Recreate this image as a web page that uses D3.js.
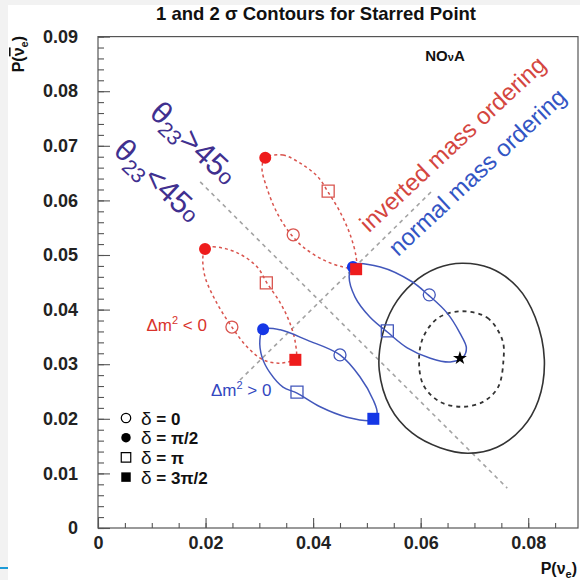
<!DOCTYPE html>
<html>
<head>
<meta charset="utf-8">
<script src="https://cdn.jsdelivr.net/npm/d3@7"></script>
<style>
body { margin: 0; background: #f2f2f2; }
svg { display: block; font-family: "Liberation Sans", Arial, sans-serif; }
</style>
</head>
<body>
<div class="chart"></div>
<script>
// Tick values
const xTicks = [0, 0.02, 0.04, 0.06, 0.08];
const yTicks = [0, 0.01, 0.02, 0.03, 0.04, 0.05, 0.06, 0.07, 0.08, 0.09];

// Contours: [P(nu_e), P(nubar_e)]
const sigma2Pts = [[0.0677,0.0485],[0.0729,0.0476],[0.0780,0.0441],[0.0813,0.0386],[0.0830,0.0308],[0.0819,0.0234],[0.0789,0.0183],[0.0742,0.0148],[0.0688,0.0137],[0.0636,0.0147],[0.0584,0.0174],[0.0543,0.0222],[0.0523,0.0289],[0.0528,0.0350],[0.0549,0.0405],[0.0586,0.0449],[0.0631,0.0476]];
const sigma1Pts = [[0.0677,0.0397],[0.0724,0.0385],[0.0752,0.0344],[0.0754,0.0308],[0.0744,0.0258],[0.0716,0.0231],[0.0677,0.0222],[0.0636,0.0231],[0.0605,0.0262],[0.0597,0.0308],[0.0605,0.0350],[0.0633,0.0385]];
const starPoint = [0.0673, 0.0311];

// normal mass ordering (blue)
const noHighPts = [[0.0474,0.0482],[0.0525,0.0478],[0.0584,0.0451],[0.0614,0.0427],[0.0649,0.0394],[0.0673,0.0357],[0.0685,0.0330],[0.0679,0.0313],[0.0655,0.0304],[0.0618,0.0311],[0.0575,0.0330],[0.0538,0.0359],[0.0506,0.0386],[0.0478,0.0423],[0.0467,0.0460]];
const noLowPts = [[0.0307,0.0364],[0.0339,0.0363],[0.0389,0.0344],[0.0450,0.0317],[0.0487,0.0277],[0.0512,0.0234],[0.0519,0.0211],[0.0512,0.0198],[0.0463,0.0203],[0.0413,0.0222],[0.0370,0.0247],[0.0344,0.0258],[0.0320,0.0284],[0.0305,0.0313],[0.0301,0.0344]];
// inverted mass ordering (red)
const ioHighPts = [[0.0311,0.0678],[0.0344,0.0683],[0.0381,0.0665],[0.0409,0.0643],[0.0428,0.0615],[0.0450,0.0579],[0.0469,0.0537],[0.0480,0.0496],[0.0480,0.0476],[0.0456,0.0478],[0.0419,0.0491],[0.0381,0.0515],[0.0357,0.0540],[0.0333,0.0577],[0.0314,0.0623],[0.0305,0.0659]];
const ioLowPts = [[0.0199,0.0511],[0.0214,0.0515],[0.0259,0.0504],[0.0296,0.0478],[0.0314,0.0449],[0.0339,0.0412],[0.0357,0.0375],[0.0367,0.0339],[0.0367,0.0311],[0.0339,0.0302],[0.0307,0.0308],[0.0277,0.0332],[0.0249,0.0368],[0.0221,0.0412],[0.0199,0.0460],[0.0195,0.0496]];

// delta markers: [delta index, P(nu_e), P(nubar_e)]  (0: 0, 1: pi/2, 2: pi, 3: 3pi/2)
const noHighMarks = [[0,0.0616,0.0427],[1,0.0474,0.0478],[2,0.0538,0.0361]];
const noLowMarks = [[0,0.0450,0.0317],[1,0.0307,0.0364],[2,0.0370,0.0249],[3,0.0512,0.0200]];
const ioHighMarks = [[0,0.0363,0.0537],[1,0.0311,0.0678],[2,0.0428,0.0617],[3,0.0480,0.0474]];
const ioLowMarks = [[0,0.0249,0.0368],[1,0.0199,0.0511],[2,0.0313,0.0449],[3,0.0367,0.0308]];

// gray dashed separators
const octantLine = [[0.0190,0.0634],[0.0761,0.0073]];
const orderingLine = [[0.0264,0.0271],[0.0623,0.0619]];

const legendLabels = ["0", "π/2", "π", "3π/2"];

const W = 580, H = 580;
const svg = d3.select(".chart").append("svg").attr("width", W).attr("height", H);

svg.append("rect").attr("x", 8).attr("y", 5).attr("width", W - 8).attr("height", H - 5).attr("fill", "#fff");
svg.append("line").attr("x1", 0).attr("x2", 8).attr("y1", 568).attr("y2", 568).attr("stroke", "#1d9bd7").attr("stroke-width", 2);

const x = d3.scaleLinear().domain([0, 0.09]).range([98, 582]);
const y = d3.scaleLinear().domain([0, 0.09]).range([528, 36.6]);

const blue = "#4257bb", red = "#d9544e";
const blueFill = "#1537e6", redFill = "#ee1c1c";

// frame
svg.append("rect")
    .attr("x", x(0)).attr("y", y(0.09))
    .attr("width", 578 - x(0)).attr("height", y(0) - y(0.09))
    .attr("fill", "none").attr("stroke", "#555").attr("stroke-width", 1.2);

// axes (ticks point inward)
function styleAxis(g) {
    g.select(".domain").remove();
    g.selectAll(".tick line").attr("stroke", "#555").attr("stroke-width", 1.1);
    g.selectAll("text").attr("font-size", 18).attr("font-weight", "bold").attr("fill", "#222")
        .attr("font-family", "Liberation Sans, Arial, sans-serif");
}
const fmt = d => d === 0 ? "0" : d3.format(".2f")(d);

svg.append("g").attr("transform", `translate(0,${y(0)})`)
    .call(d3.axisBottom(x).tickValues(d3.range(0, 0.0901, 0.005)).tickSize(-5).tickFormat(""))
    .call(styleAxis);
svg.append("g").attr("transform", `translate(0,${y(0)})`)
    .call(d3.axisBottom(x).tickValues(xTicks).tickSize(-10).tickPadding(8).tickFormat(fmt))
    .call(styleAxis);
svg.append("g").attr("transform", `translate(${x(0)},0)`)
    .call(d3.axisLeft(y).tickValues(d3.range(0, 0.0901, 0.002)).tickSize(-6).tickFormat(""))
    .call(styleAxis);
svg.append("g").attr("transform", `translate(${x(0)},0)`)
    .call(d3.axisLeft(y).tickValues(yTicks).tickSize(-12).tickPadding(20).tickFormat(fmt))
    .call(styleAxis);

// title
svg.append("text").attr("x", 316).attr("y", 20).attr("text-anchor", "middle")
    .attr("font-size", 18.5).attr("font-weight", "bold").attr("fill", "#111")
    .text("1 and 2 σ Contours for Starred Point");

// axis titles
const xt = svg.append("text").attr("x", 577).attr("y", 574).attr("text-anchor", "end")
    .attr("font-size", 16).attr("font-weight", "bold").attr("fill", "#111");
xt.append("tspan").text("P(ν");
xt.append("tspan").attr("font-size", 11).attr("dy", 4).text("e");
xt.append("tspan").attr("dy", -4).text(")");

const yt = svg.append("text").attr("transform", "translate(24,36) rotate(-90)").attr("text-anchor", "end")
    .attr("font-size", 16).attr("font-weight", "bold").attr("fill", "#111");
yt.append("tspan").text("P(");
yt.append("tspan").style("text-decoration", "overline").text("ν");
yt.append("tspan").attr("font-size", 11).attr("dy", 4).text("e");
yt.append("tspan").attr("dy", -4).text(")");

// separators
const line = d3.line().x(d => x(d[0])).y(d => y(d[1]));
[octantLine, orderingLine].forEach(l => {
    svg.append("path").attr("d", line(l)).attr("fill", "none")
        .attr("stroke", "#a3a3a3").attr("stroke-width", 1.6).attr("stroke-dasharray", "4,4");
});

// contours
const closed = d3.line().x(d => x(d[0])).y(d => y(d[1])).curve(d3.curveCatmullRomClosed.alpha(0.5));
svg.append("path").attr("d", closed(sigma2Pts)).attr("fill", "none").attr("stroke", "#333").attr("stroke-width", 1.6);
svg.append("path").attr("d", closed(sigma1Pts)).attr("fill", "none").attr("stroke", "#333")
    .attr("stroke-width", 1.8).attr("stroke-dasharray", "4,4");

[[ioHighPts, red, "3,3"], [ioLowPts, red, "3,3"], [noHighPts, blue, null], [noLowPts, blue, null]].forEach(([pts, c, dash]) => {
    svg.append("path").attr("d", closed(pts)).attr("fill", "none").attr("stroke", c)
        .attr("stroke-width", 1.5).attr("stroke-dasharray", dash);
});

// markers
const symType = [d3.symbolCircle, d3.symbolCircle, d3.symbolSquare, d3.symbolSquare];
function drawMarks(marks, lineColor, fillColor) {
    svg.append("g").selectAll("path").data(marks).enter().append("path")
        .attr("transform", d => `translate(${x(d[1])},${y(d[2])})`)
        .attr("d", d => d3.symbol().type(symType[d[0]]).size(d[0] < 2 ? 113 : 144)())
        .attr("fill", d => d[0] % 2 === 1 ? fillColor : "none")
        .attr("stroke", d => d[0] % 2 === 1 ? "none" : lineColor)
        .attr("stroke-width", 1.3);
}
drawMarks(ioLowMarks, red, redFill);
drawMarks(noLowMarks, blue, blueFill);
drawMarks(noHighMarks, blue, blueFill);
drawMarks(ioHighMarks, red, redFill);

svg.append("path").attr("transform", `translate(${x(starPoint[0])},${y(starPoint[1])})`)
    .attr("d", d3.symbol().type(d3.symbolStar).size(60)()).attr("fill", "#000");

// legend
const legend = svg.append("g");
legendLabels.forEach((lab, i) => {
    const ly = 418 + i * 19.7;
    legend.append("path").attr("transform", `translate(126,${ly})`)
        .attr("d", d3.symbol().type(symType[i]).size(i < 2 ? 70 : 90)())
        .attr("fill", i % 2 === 1 ? "#000" : "none")
        .attr("stroke", i % 2 === 1 ? "none" : "#000").attr("stroke-width", 1.2);
    const t = legend.append("text").attr("x", 141).attr("y", ly + 6.5)
        .attr("font-size", 17).attr("font-weight", "bold").attr("fill", "#111");
    t.append("tspan").attr("font-weight", "normal").attr("font-size", 19).text("δ");
    t.append("tspan").text(" = " + lab);
});

// annotations
svg.append("text").attr("x", 445).attr("y", 61).attr("text-anchor", "middle")
    .attr("font-size", 15).attr("font-weight", "bold").attr("fill", "#111")
    .html('NO<tspan font-size="11">ν</tspan>A');

function rotLabel(px, py, angle, size, color, build) {
    const t = svg.append("text").attr("transform", `translate(${px},${py}) rotate(${angle})`)
        .attr("font-size", size).attr("fill", color);
    build(t);
    return t;
}
rotLabel(x(0.0093), y(0.0757), 43, 31, "#40308f", t => {
    t.append("tspan").text("θ");
    t.append("tspan").attr("font-size", 21).attr("dy", 6).text("23");
    t.append("tspan").attr("dy", -6).text(">45");
    t.append("tspan").attr("font-size", 22).text("o");
});
rotLabel(x(0.0026), y(0.0688), 43, 31, "#40308f", t => {
    t.append("tspan").text("θ");
    t.append("tspan").attr("font-size", 21).attr("dy", 6).text("23");
    t.append("tspan").attr("dy", -6).text("<45");
    t.append("tspan").attr("font-size", 22).text("o");
});
rotLabel(x(0.0504), y(0.0540), -43, 24, "#d4463f", t => t.text("inverted mass ordering"));
rotLabel(x(0.0558), y(0.0496), -43, 24, "#3355c4", t => t.text("normal mass ordering"));

const dmNeg = svg.append("text").attr("x", x(0.0090)).attr("y", y(0.0360)).attr("font-size", 17).attr("fill", "#d9332c");
dmNeg.append("tspan").text("Δm");
dmNeg.append("tspan").attr("font-size", 11).attr("dy", -7).text("2");
dmNeg.append("tspan").attr("dy", 7).text(" <  0");
const dmPos = svg.append("text").attr("x", x(0.0210)).attr("y", y(0.0241)).attr("font-size", 17).attr("fill", "#3347c0");
dmPos.append("tspan").text("Δm");
dmPos.append("tspan").attr("font-size", 11).attr("dy", -7).text("2");
dmPos.append("tspan").attr("dy", 7).text(" > 0");
</script>
</body>
</html>
